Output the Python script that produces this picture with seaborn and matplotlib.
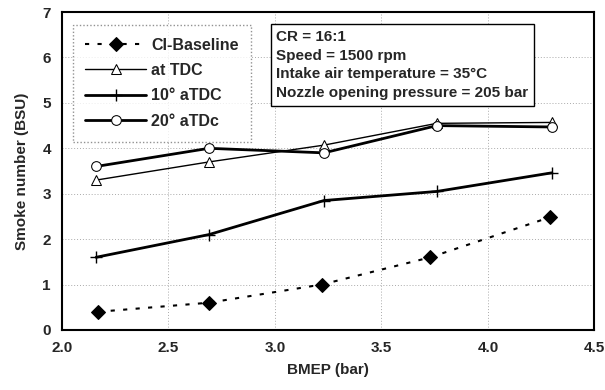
import matplotlib.pyplot as plt
import pandas as pd
import seaborn as sns

# values
bmep_base = [2.17, 2.69, 3.22, 3.73, 4.29]
smoke_base = [0.4, 0.6, 1.0, 1.6, 2.48]

bmep_inj = [2.16, 2.69, 3.23, 3.76, 4.30]
smoke_tdc = [3.3, 3.7, 4.07, 4.55, 4.57]
smoke_10 = [1.6, 2.1, 2.85, 3.05, 3.46]
smoke_20 = [3.6, 4.0, 3.9, 4.5, 4.47]

x_ticks = [2.0, 2.5, 3.0, 3.5, 4.0, 4.5]
y_ticks = [0, 1, 2, 3, 4, 5, 6, 7]

info_lines = [
    "CR = 16:1",
    "Speed = 1500 rpm",
    "Intake air temperature = 35°C",
    "Nozzle opening pressure = 205 bar",
]

sns.set_style("white")
plt.rcParams["font.family"] = ["Liberation Sans", "DejaVu Sans"]
plt.rcParams["font.weight"] = "bold"

fig = plt.figure(figsize=(6.05, 3.9), dpi=100)
ax = fig.add_axes([0.1025, 0.154, 0.88, 0.815])

series = [
    ("CI-Baseline", bmep_base, smoke_base,
     dict(linestyle=(0, (2, 4)), linewidth=1.5, marker="D", markersize=7,
          markerfacecolor="black", markeredgecolor="black")),
    ("at TDC", bmep_inj, smoke_tdc,
     dict(linestyle="-", linewidth=1.0, marker="^", markersize=7,
          markerfacecolor="white", markeredgecolor="black")),
    ("10° aTDC", bmep_inj, smoke_10,
     dict(linestyle="-", linewidth=2.0, marker="+", markersize=9,
          markeredgecolor="black", markeredgewidth=1.0)),
    ("20° aTDc", bmep_inj, smoke_20,
     dict(linestyle="-", linewidth=2.0, marker="o", markersize=7,
          markerfacecolor="white", markeredgecolor="black")),
]

for name, xs, ys, style in series:
    df = pd.DataFrame({"BMEP": xs, "Smoke": ys})
    sns.lineplot(data=df, x="BMEP", y="Smoke", ax=ax, color="black",
                 label=name, **style)

ax.set_xlim(2.0, 4.5)
ax.set_ylim(0, 7)
ax.set_xticks(x_ticks)
ax.set_yticks(y_ticks)
ax.set_xticklabels([f"{v:.1f}" for v in x_ticks], fontsize=11, fontweight="bold")
ax.set_yticklabels([str(v) for v in y_ticks], fontsize=11, fontweight="bold")
ax.tick_params(axis="both", length=0, pad=8)
ax.grid(True, color="#aaaaaa", linestyle=(0, (1, 2)), linewidth=0.7)
for sp in ax.spines.values():
    sp.set_color("black")
    sp.set_linewidth(1.5)

ax.set_xlabel("BMEP (bar)", fontsize=11, fontweight="bold", labelpad=6)
ax.set_ylabel("Smoke number (BSU)", fontsize=11, fontweight="bold", labelpad=10)

leg = ax.legend(loc="upper left", bbox_to_anchor=(0.005, 0.985), fontsize=11.5,
                frameon=True, fancybox=False, handlelength=3.8,
                borderpad=0.8, labelspacing=0.65, handletextpad=0.3)
leg.get_frame().set_edgecolor("#777777")
leg.get_frame().set_linestyle((0, (1, 1.5)))
leg.get_frame().set_linewidth(1.0)
for t in leg.get_texts():
    t.set_fontweight("bold")

ax.text(0.402, 0.945, "\n".join(info_lines), transform=ax.transAxes,
        fontsize=11, fontweight="bold", va="top", ha="left", linespacing=1.45,
        bbox=dict(boxstyle="square,pad=0.35", facecolor="white",
                  edgecolor="black", linewidth=1.0))

fig.savefig("out.png", dpi=100)
